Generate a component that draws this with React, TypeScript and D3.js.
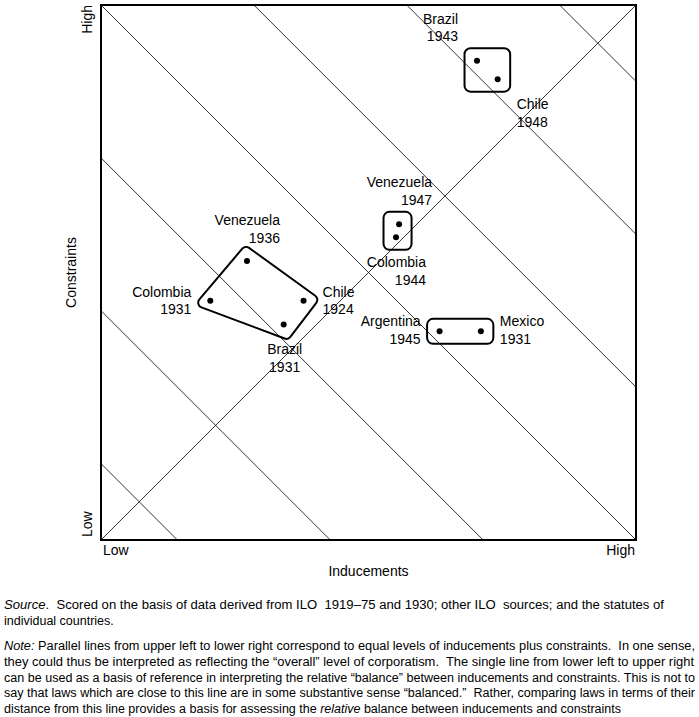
import React from 'react';
import * as d3 from 'd3';

// scores (0 = low, 7 = high)
const countries = ['Venezuela', 'Colombia', 'Chile', 'Brazil', 'Brazil', 'Chile', 'Venezuela', 'Colombia', 'Argentina', 'Mexico'];
const years = ['1936', '1931', '1924', '1931', '1943', '1948', '1947', '1944', '1945', '1931'];
const inducements = [1.91, 1.43, 2.65, 2.39, 4.92, 5.19, 3.9, 3.86, 4.43, 4.97];
const constraints = [3.65, 3.13, 3.13, 2.82, 6.27, 6.03, 4.13, 3.96, 2.73, 2.73];
// which enclosure each law belongs to
const groups = [0, 0, 0, 0, 1, 1, 2, 2, 3, 3];
const hullGroups = [0];

// equal inducements + constraints levels
const levels = [1, 3, 5, 7, 9, 11, 13];

// label placement, relative to the dot
const labelPos: { anchor: string; dx: number; dy: number }[] = [
  { anchor: 'end', dx: 33, dy: -36 },
  { anchor: 'end', dx: -19, dy: -4 },
  { anchor: 'start', dx: 19, dy: -4 },
  { anchor: 'middle', dx: 1, dy: 30 },
  { anchor: 'end', dx: -19, dy: -37 },
  { anchor: 'start', dx: 19, dy: 30 },
  { anchor: 'end', dx: 33, dy: -37 },
  { anchor: 'end', dx: 30, dy: 30 },
  { anchor: 'end', dx: -19, dy: -5 },
  { anchor: 'start', dx: 19, dy: -5 },
];

const noteLines: [string, boolean][][] = [
  [['Source', true], ['.  Scored on the basis of data derived from ILO  1919–75 and 1930; other ILO  sources; and the statutes of', false]],
  [['individual countries.', false]],
  [['Note:', true], [' Parallel lines from upper left to lower right correspond to equal levels of inducements plus constraints.  In one sense,', false]],
  [['they could thus be interpreted as reflecting the “overall” level of corporatism.  The single line from lower left to upper right', false]],
  [['can be used as a basis of reference in interpreting the relative “balance” between inducements and constraints. This is not to', false]],
  [['say that laws which are close to this line are in some substantive sense “balanced.”  Rather, comparing laws in terms of their', false]],
  [['distance from this line provides a basis for assessing the ', false], ['relative', true], [' balance between inducements and constraints', false]],
];
const noteY = [609, 624.5, 650, 665.8, 681.6, 697.4, 713.2];
// set width of each footnote line (0 = natural)
const noteWidth = [660, 0, 691, 690, 691, 691, 0];

const W = 699;
const H = 717;
const FONT = '"Liberation Sans", Arial, Helvetica, sans-serif';

const x = d3.scaleLinear().domain([0, 7]).range([101, 636]);
const y = d3.scaleLinear().domain([0, 7]).range([540, 5]);

// hull of the dots, pushed outwards along each corner bisector, corners rounded
function hullPath(pts: [number, number][], off: number, r: number) {
  const hull = d3.polygonHull(pts) as [number, number][];
  const n = hull.length;
  const out = hull.map((v, i) => {
    const p = hull[(i - 1 + n) % n];
    const q = hull[(i + 1) % n];
    const a = [p[0] - v[0], p[1] - v[1]];
    const b = [q[0] - v[0], q[1] - v[1]];
    const la = Math.hypot(a[0], a[1]);
    const lb = Math.hypot(b[0], b[1]);
    const s = [a[0] / la + b[0] / lb, a[1] / la + b[1] / lb];
    const ls = Math.hypot(s[0], s[1]);
    return [v[0] - (s[0] / ls) * off, v[1] - (s[1] / ls) * off] as [number, number];
  });
  const mid = (i: number) => {
    const a = out[i % n];
    const b = out[(i + 1) % n];
    return [(a[0] + b[0]) / 2, (a[1] + b[1]) / 2];
  };
  const path = d3.path();
  const m0 = mid(n - 1);
  path.moveTo(m0[0], m0[1]);
  for (let i = 0; i < n; i++) {
    const m = mid(i);
    path.arcTo(out[i][0], out[i][1], m[0], m[1], r);
  }
  path.closePath();
  return path.toString();
}

export default function App() {
  const pts = inducements.map((d, i) => [x(d), y(constraints[i])] as [number, number]);
  const groupIds = Array.from(new Set(groups));

  return (
    <div style={{ position: 'absolute', left: 0, top: 0 }}>
      <svg width={W} height={H} style={{ display: 'block', background: '#fff' }} fontFamily={FONT}>
        {/* diagonal reference lines */}
        <line x1={x(0)} y1={y(0)} x2={x(7)} y2={y(7)} stroke="#000" strokeWidth={0.8} />
        {levels.map(s => (
          <line
            key={s}
            x1={x(Math.max(0, s - 7))}
            y1={y(Math.min(s, 7))}
            x2={x(Math.min(s, 7))}
            y2={y(Math.max(0, s - 7))}
            stroke="#000"
            strokeWidth={0.8}
          />
        ))}

        <rect x={x(0)} y={y(7)} width={x(7) - x(0)} height={y(0) - y(7)} fill="none" stroke="#000" strokeWidth={2} />

        {/* enclosures */}
        {groupIds.map(g => {
          const gp = pts.filter((_, i) => groups[i] === g);
          if (hullGroups.includes(g)) {
            return <path key={g} d={hullPath(gp, 16, 5)} fill="none" stroke="#000" strokeWidth={2} />;
          }
          const [x0, x1] = d3.extent(gp, p => p[0]) as [number, number];
          const [y0, y1] = d3.extent(gp, p => p[1]) as [number, number];
          const pad = 12.5;
          return (
            <rect
              key={g}
              x={x0 - pad}
              y={y0 - pad}
              width={x1 - x0 + 2 * pad}
              height={y1 - y0 + 2 * pad}
              rx={6}
              fill="none"
              stroke="#000"
              strokeWidth={2}
            />
          );
        })}

        {pts.map((p, i) => (
          <circle key={i} cx={p[0]} cy={p[1]} r={3} fill="#000" />
        ))}

        {pts.map((p, i) => {
          const lp = labelPos[i];
          return (
            <text key={i} fontSize={14} textAnchor={lp.anchor} fill="#000">
              <tspan x={p[0] + lp.dx} y={p[1] + lp.dy}>{countries[i]}</tspan>
              <tspan x={p[0] + lp.dx} y={p[1] + lp.dy + 17.5}>{years[i]}</tspan>
            </text>
          );
        })}

        {/* axis labels */}
        <text x={x(0) + 2} y={555} fontSize={14}>Low</text>
        <text x={x(7) - 1} y={555} fontSize={14} textAnchor="end">High</text>
        <text x={(x(0) + x(7)) / 2} y={576} fontSize={14} textAnchor="middle">Inducements</text>
        <text transform={`translate(92,${y(0) - 3}) rotate(-90)`} fontSize={14}>Low</text>
        <text transform={`translate(92,${y(7)}) rotate(-90)`} fontSize={14} textAnchor="end">High</text>
        <text transform={`translate(76,${(y(0) + y(7)) / 2}) rotate(-90)`} fontSize={14} textAnchor="middle">Constraints</text>

        {/* footnotes */}
        {noteLines.map((parts, i) => (
          <text
            key={i}
            x={4}
            y={noteY[i]}
            fontSize={12.5}
            style={{ whiteSpace: 'pre' }}
            {...(noteWidth[i] ? { textLength: noteWidth[i], lengthAdjust: 'spacingAndGlyphs' } : {})}
          >
            {parts.map(([t, it], j) => (
              <tspan key={j} fontStyle={it ? 'italic' : 'normal'}>{t}</tspan>
            ))}
          </text>
        ))}
      </svg>
    </div>
  );
}
